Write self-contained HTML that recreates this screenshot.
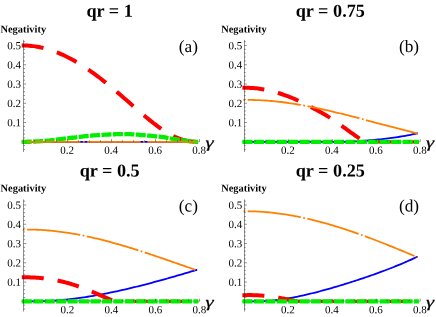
<!DOCTYPE html>
<html><head><meta charset="utf-8"><title>Negativity</title>
<style>html,body{margin:0;padding:0;background:#fff;overflow:hidden}svg{display:block;will-change:transform}text{text-rendering:geometricPrecision}</style></head><body>
<svg width="436" height="317" viewBox="0 0 436 317">
<rect width="436" height="317" fill="#fff"/>
<g id="panel-a">
<path d="M21.00,141.80H199.50" stroke="#444" stroke-width="0.45" fill="none"/>
<path d="M22.70,141.80L196.90,141.80" fill="none" stroke="#0000ff" stroke-width="1.8"/>
<path d="M21.70,45.48L23.50,45.48L25.44,45.51L27.38,45.59L29.32,45.72L31.27,45.90L33.21,46.12L35.15,46.38L37.09,46.70L39.03,47.06L40.97,47.46L42.92,47.90L44.86,48.39L46.80,48.92L48.74,49.50L50.68,50.11L52.62,50.77L54.57,51.47L56.51,52.21L58.45,52.98L60.39,53.80L62.33,54.66L64.27,55.55L66.21,56.48L68.16,57.45L70.10,58.45L72.04,59.49L73.98,60.57L75.92,61.68L77.86,62.83L79.81,64.01L81.75,65.22L83.69,66.47L85.63,67.74L87.57,69.05L89.51,70.40L91.46,71.77L93.40,73.17L95.34,74.60L97.28,76.05L99.22,77.53L101.16,79.03L103.10,80.56L105.05,82.10L106.99,83.67L108.93,85.25L110.87,86.85L112.81,88.47L114.75,90.10L116.70,91.74L118.64,93.39L120.58,95.06L122.52,96.73L124.46,98.41L126.40,100.10L128.34,101.79L130.29,103.49L132.23,105.19L134.17,106.89L136.11,108.59L138.05,110.28L139.99,111.96L141.94,113.63L143.88,115.28L145.82,116.92L147.76,118.53L149.70,120.12L151.64,121.67L153.59,123.20L155.53,124.68L157.47,126.13L159.41,127.53L161.35,128.88L163.29,130.19L165.23,131.44L167.18,132.63L169.12,133.76L171.06,134.83L173.00,135.83L174.94,136.75L176.88,137.61L178.83,138.39L180.77,139.09L182.71,139.72L184.65,140.26L186.59,140.72L188.53,141.09L190.48,141.38L192.42,141.58L194.36,141.68L196.30,141.69L198.10,141.69" fill="none" stroke="#ff0000" stroke-width="4.0" stroke-dasharray="22 14"/>
<path d="M21.70,141.80L23.50,141.80L25.44,141.79L27.38,141.77L29.32,141.74L31.27,141.69L33.21,141.62L35.15,141.52L37.09,141.42L39.03,141.31L40.97,141.18L42.92,141.03L44.86,140.87L46.80,140.70L48.74,140.52L50.68,140.32L52.62,140.09L54.57,139.85L56.51,139.60L58.45,139.35L60.39,139.11L62.33,138.88L64.27,138.65L66.21,138.42L68.16,138.20L70.10,137.97L72.04,137.75L73.98,137.53L75.92,137.30L77.86,137.08L79.81,136.86L81.75,136.64L83.69,136.43L85.63,136.23L87.57,136.03L89.51,135.83L91.46,135.64L93.40,135.46L95.34,135.30L97.28,135.16L99.22,135.02L101.16,134.89L103.10,134.78L105.05,134.67L106.99,134.58L108.93,134.48L110.87,134.39L112.81,134.30L114.75,134.24L116.70,134.20L118.64,134.20L120.58,134.20L122.52,134.20L124.46,134.20L126.40,134.20L128.34,134.20L130.29,134.22L132.23,134.29L134.17,134.42L136.11,134.56L138.05,134.72L139.99,134.88L141.94,135.02L143.88,135.18L145.82,135.35L147.76,135.53L149.70,135.72L151.64,135.90L153.59,136.09L155.53,136.27L157.47,136.47L159.41,136.67L161.35,136.89L163.29,137.14L165.23,137.44L167.18,137.78L169.12,138.14L171.06,138.51L173.00,138.85L174.94,139.17L176.88,139.49L178.83,139.80L180.77,140.09L182.71,140.38L184.65,140.64L186.59,140.90L188.53,141.14L190.48,141.35L192.42,141.52L194.36,141.68L196.30,141.80L198.10,141.80" fill="none" stroke="#00ee00" stroke-width="4.3" stroke-dasharray="10.09 1.35"/>
<path d="M22.70,141.80L196.90,141.80" fill="none" stroke="#ff8000" stroke-width="1.8" stroke-dasharray="1.8 2.5 53.4 2.5"/>
<path d="M23.50,39.91V152.01" stroke="#222" stroke-width="0.5" fill="none"/>
<g stroke="#333" stroke-width="0.55" fill="none">
<path d="M23.50,149.50h1.5M23.50,145.65h1.5M23.50,137.95h1.5M23.50,134.10h1.5M23.50,130.24h1.5M23.50,126.39h1.5M23.50,122.54h2.6M23.50,118.69h1.5M23.50,114.84h1.5M23.50,110.98h1.5M23.50,107.13h1.5M23.50,103.28h2.6M23.50,99.43h1.5M23.50,95.58h1.5M23.50,91.72h1.5M23.50,87.87h1.5M23.50,84.02h2.6M23.50,80.17h1.5M23.50,76.32h1.5M23.50,72.46h1.5M23.50,68.61h1.5M23.50,64.76h2.6M23.50,60.91h1.5M23.50,57.06h1.5M23.50,53.20h1.5M23.50,49.35h1.5M23.50,45.50h2.6M23.50,41.65h1.5M34.50,141.80v-1.5M45.50,141.80v-1.5M56.50,141.80v-1.5M67.50,141.80v-2.6M78.50,141.80v-1.5M89.50,141.80v-1.5M100.50,141.80v-1.5M111.50,141.80v-2.6M122.50,141.80v-1.5M133.50,141.80v-1.5M144.50,141.80v-1.5M155.50,141.80v-2.6M166.50,141.80v-1.5M177.50,141.80v-1.5M188.50,141.80v-1.5M199.50,141.80v-2.6"/>
</g>
<g font-family="'Liberation Serif', serif" font-size="11" fill="#000">
<text x="20.90" y="126.24" text-anchor="end" transform="rotate(0.04 20.90 126.24)">0.1</text>
<text x="20.90" y="106.98" text-anchor="end" transform="rotate(0.04 20.90 106.98)">0.2</text>
<text x="20.90" y="87.72" text-anchor="end" transform="rotate(0.04 20.90 87.72)">0.3</text>
<text x="20.90" y="68.46" text-anchor="end" transform="rotate(0.04 20.90 68.46)">0.4</text>
<text x="20.90" y="49.20" text-anchor="end" transform="rotate(0.04 20.90 49.20)">0.5</text>
<text x="67.20" y="153.70" text-anchor="middle" transform="rotate(0.04 67.20 153.70)">0.2</text>
<text x="111.20" y="153.70" text-anchor="middle" transform="rotate(0.04 111.20 153.70)">0.4</text>
<text x="155.20" y="153.70" text-anchor="middle" transform="rotate(0.04 155.20 153.70)">0.6</text>
<text x="199.20" y="153.70" text-anchor="middle" transform="rotate(0.04 199.20 153.70)">0.8</text>
</g>
<text x="0.50" y="32.60" transform="rotate(0.04 0.50 32.60)" font-family="'Liberation Serif', serif" font-weight="bold" font-size="10.4">Negativity</text>
<text transform="translate(205.40,147.40) rotate(0.03) scale(1.33,1)" font-family="'Liberation Serif', serif" font-style="italic" font-size="15.5" stroke="#000" stroke-width="0.22">γ</text>
<text x="109.60" y="16.80" transform="rotate(0.03 109.60 16.80)" text-anchor="middle" font-family="'Liberation Serif', serif" font-weight="bold" font-size="18.2">qr = 1</text>
<text x="188.30" y="52.10" transform="rotate(0.03 188.30 52.10)" text-anchor="middle" font-family="'Liberation Serif', serif" font-size="17.3">(a)</text>
</g>
<g id="panel-b">
<path d="M241.70,141.80H420.20" stroke="#444" stroke-width="0.45" fill="none"/>
<path d="M243.40,141.80L244.20,141.80L246.14,141.80L248.09,141.80L250.03,141.80L251.97,141.80L253.91,141.80L255.86,141.80L257.80,141.80L259.74,141.80L261.68,141.80L263.63,141.80L265.57,141.80L267.51,141.80L269.46,141.80L271.40,141.80L273.34,141.80L275.28,141.80L277.23,141.80L279.17,141.80L281.11,141.80L283.05,141.80L285.00,141.80L286.94,141.80L288.88,141.80L290.82,141.80L292.77,141.80L294.71,141.80L296.65,141.80L298.60,141.80L300.54,141.80L302.48,141.80L304.42,141.80L306.37,141.80L308.31,141.80L310.25,141.80L312.19,141.80L314.14,141.80L316.08,141.80L318.02,141.80L319.97,141.80L321.91,141.80L323.85,141.80L325.79,141.80L327.74,141.80L329.68,141.80L331.62,141.80L333.56,141.80L335.51,141.80L337.45,141.80L339.39,141.80L341.33,141.80L343.28,141.79L345.22,141.76L347.16,141.71L349.11,141.65L351.05,141.58L352.99,141.50L354.93,141.40L356.88,141.29L358.82,141.17L360.76,141.04L362.70,140.90L364.65,140.76L366.59,140.60L368.53,140.44L370.48,140.27L372.42,140.09L374.36,139.90L376.30,139.71L378.25,139.51L380.19,139.30L382.13,139.08L384.07,138.86L386.02,138.63L387.96,138.39L389.90,138.14L391.84,137.89L393.79,137.62L395.73,137.34L397.67,137.06L399.62,136.76L401.56,136.44L403.50,136.12L405.44,135.78L407.39,135.42L409.33,135.05L411.27,134.65L413.21,134.24L415.16,133.81L417.10,133.36L417.90,133.36" fill="none" stroke="#0000ff" stroke-width="1.8"/>
<path d="M242.40,87.80L244.20,87.80L245.72,87.78L247.24,87.79L248.76,87.82L250.28,87.88L251.80,87.97L253.32,88.07L254.84,88.21L256.36,88.36L257.88,88.54L259.40,88.74L260.92,88.96L262.44,89.21L263.96,89.47L265.48,89.76L267.00,90.07L268.52,90.40L270.04,90.75L271.56,91.12L273.08,91.51L274.61,91.92L276.13,92.35L277.65,92.80L279.17,93.26L280.69,93.75L282.21,94.25L283.73,94.77L285.25,95.30L286.77,95.86L288.29,96.43L289.81,97.03L291.33,97.64L292.85,98.27L294.37,98.92L295.89,99.59L297.41,100.27L298.93,100.98L300.45,101.70L301.97,102.44L303.49,103.19L305.01,103.96L306.53,104.73L308.05,105.51L309.57,106.30L311.09,107.09L312.61,107.88L314.13,108.68L315.65,109.49L317.17,110.30L318.69,111.13L320.21,111.97L321.73,112.82L323.25,113.69L324.77,114.57L326.29,115.48L327.81,116.41L329.33,117.36L330.85,118.34L332.37,119.33L333.89,120.35L335.42,121.39L336.94,122.44L338.46,123.51L339.98,124.59L341.50,125.67L343.02,126.76L344.54,127.86L346.06,128.96L347.58,130.06L349.10,131.16L350.62,132.26L352.14,133.35L353.66,134.44L355.18,135.52L356.70,136.59L358.22,137.65L359.74,138.70L361.26,139.74L362.78,140.76L364.30,141.77" fill="none" stroke="#ff0000" stroke-width="4.0" stroke-dasharray="22 14"/>
<path d="M364.30,141.80H418.90" fill="none" stroke="#ff0000" stroke-width="3.3" stroke-dasharray="22 14" stroke-dashoffset="27.78"/>
<path d="M242.40,141.80L418.90,141.80" fill="none" stroke="#00ee00" stroke-width="4.3" stroke-dasharray="10.09 1.35"/>
<path d="M243.40,99.96L244.20,99.96L246.14,99.93L248.09,99.92L250.03,99.93L251.97,99.95L253.91,99.99L255.86,100.04L257.80,100.11L259.74,100.19L261.68,100.29L263.63,100.40L265.57,100.52L267.51,100.66L269.46,100.82L271.40,100.98L273.34,101.16L275.28,101.35L277.23,101.56L279.17,101.77L281.11,102.00L283.05,102.24L285.00,102.50L286.94,102.76L288.88,103.03L290.82,103.32L292.77,103.61L294.71,103.92L296.65,104.24L298.60,104.56L300.54,104.90L302.48,105.24L304.42,105.60L306.37,105.96L308.31,106.33L310.25,106.71L312.19,107.10L314.14,107.50L316.08,107.90L318.02,108.31L319.97,108.73L321.91,109.16L323.85,109.59L325.79,110.03L327.74,110.47L329.68,110.92L331.62,111.38L333.56,111.84L335.51,112.31L337.45,112.78L339.39,113.25L341.33,113.73L343.28,114.22L345.22,114.71L347.16,115.20L349.11,115.69L351.05,116.19L352.99,116.70L354.93,117.20L356.88,117.71L358.82,118.22L360.76,118.73L362.70,119.24L364.65,119.76L366.59,120.27L368.53,120.79L370.48,121.31L372.42,121.82L374.36,122.34L376.30,122.86L378.25,123.38L380.19,123.89L382.13,124.41L384.07,124.93L386.02,125.44L387.96,125.95L389.90,126.46L391.84,126.97L393.79,127.48L395.73,127.99L397.67,128.49L399.62,128.99L401.56,129.48L403.50,129.97L405.44,130.46L407.39,130.95L409.33,131.43L411.27,131.90L413.21,132.37L415.16,132.84L417.10,133.30L417.90,133.30" fill="none" stroke="#ff8000" stroke-width="1.8" stroke-dasharray="1.8 2.5 53.4 2.5"/>
<path d="M244.50,39.91V152.01" stroke="#222" stroke-width="0.5" fill="none"/>
<g stroke="#333" stroke-width="0.55" fill="none">
<path d="M244.20,149.50h1.5M244.20,145.65h1.5M244.20,137.95h1.5M244.20,134.10h1.5M244.20,130.24h1.5M244.20,126.39h1.5M244.20,122.54h2.6M244.20,118.69h1.5M244.20,114.84h1.5M244.20,110.98h1.5M244.20,107.13h1.5M244.20,103.28h2.6M244.20,99.43h1.5M244.20,95.58h1.5M244.20,91.72h1.5M244.20,87.87h1.5M244.20,84.02h2.6M244.20,80.17h1.5M244.20,76.32h1.5M244.20,72.46h1.5M244.20,68.61h1.5M244.20,64.76h2.6M244.20,60.91h1.5M244.20,57.06h1.5M244.20,53.20h1.5M244.20,49.35h1.5M244.20,45.50h2.6M244.20,41.65h1.5M255.20,141.80v-1.5M266.20,141.80v-1.5M277.20,141.80v-1.5M288.20,141.80v-2.6M299.20,141.80v-1.5M310.20,141.80v-1.5M321.20,141.80v-1.5M332.20,141.80v-2.6M343.20,141.80v-1.5M354.20,141.80v-1.5M365.20,141.80v-1.5M376.20,141.80v-2.6M387.20,141.80v-1.5M398.20,141.80v-1.5M409.20,141.80v-1.5M420.20,141.80v-2.6"/>
</g>
<g font-family="'Liberation Serif', serif" font-size="11" fill="#000">
<text x="242.30" y="126.24" text-anchor="end" transform="rotate(0.04 242.30 126.24)">0.1</text>
<text x="242.30" y="106.98" text-anchor="end" transform="rotate(0.04 242.30 106.98)">0.2</text>
<text x="242.30" y="87.72" text-anchor="end" transform="rotate(0.04 242.30 87.72)">0.3</text>
<text x="242.30" y="68.46" text-anchor="end" transform="rotate(0.04 242.30 68.46)">0.4</text>
<text x="242.30" y="49.20" text-anchor="end" transform="rotate(0.04 242.30 49.20)">0.5</text>
<text x="287.90" y="153.70" text-anchor="middle" transform="rotate(0.04 287.90 153.70)">0.2</text>
<text x="331.90" y="153.70" text-anchor="middle" transform="rotate(0.04 331.90 153.70)">0.4</text>
<text x="375.90" y="153.70" text-anchor="middle" transform="rotate(0.04 375.90 153.70)">0.6</text>
<text x="419.90" y="153.70" text-anchor="middle" transform="rotate(0.04 419.90 153.70)">0.8</text>
</g>
<text x="221.20" y="32.60" transform="rotate(0.04 221.20 32.60)" font-family="'Liberation Serif', serif" font-weight="bold" font-size="10.4">Negativity</text>
<text transform="translate(426.10,147.40) rotate(0.03) scale(1.33,1)" font-family="'Liberation Serif', serif" font-style="italic" font-size="15.5" stroke="#000" stroke-width="0.22">γ</text>
<text x="330.30" y="16.80" transform="rotate(0.03 330.30 16.80)" text-anchor="middle" font-family="'Liberation Serif', serif" font-weight="bold" font-size="18.2">qr = 0.75</text>
<text x="409.00" y="52.10" transform="rotate(0.03 409.00 52.10)" text-anchor="middle" font-family="'Liberation Serif', serif" font-size="17.3">(b)</text>
</g>
<g id="panel-c">
<path d="M21.10,301.30H199.60" stroke="#444" stroke-width="0.45" fill="none"/>
<path d="M22.80,301.30L23.60,301.30L25.54,301.30L27.48,301.30L29.42,301.30L31.37,301.30L33.31,301.30L35.25,301.30L37.19,301.28L39.13,301.25L41.07,301.20L43.02,301.15L44.96,301.08L46.90,301.00L48.84,300.90L50.78,300.80L52.72,300.68L54.67,300.55L56.61,300.41L58.55,300.26L60.49,300.10L62.43,299.93L64.37,299.74L66.31,299.55L68.26,299.34L70.20,299.13L72.14,298.90L74.08,298.67L76.02,298.42L77.96,298.17L79.91,297.90L81.85,297.63L83.79,297.34L85.73,297.05L87.67,296.75L89.61,296.44L91.56,296.12L93.50,295.79L95.44,295.46L97.38,295.11L99.32,294.76L101.26,294.40L103.20,294.04L105.15,293.66L107.09,293.28L109.03,292.89L110.97,292.49L112.91,292.09L114.85,291.68L116.80,291.26L118.74,290.84L120.68,290.41L122.62,289.97L124.56,289.53L126.50,289.08L128.44,288.62L130.39,288.16L132.33,287.70L134.27,287.23L136.21,286.75L138.15,286.27L140.09,285.78L142.04,285.29L143.98,284.79L145.92,284.29L147.86,283.78L149.80,283.27L151.74,282.76L153.69,282.24L155.63,281.72L157.57,281.19L159.51,280.66L161.45,280.12L163.39,279.58L165.33,279.04L167.28,278.50L169.22,277.95L171.16,277.40L173.10,276.84L175.04,276.28L176.98,275.72L178.93,275.16L180.87,274.60L182.81,274.03L184.75,273.46L186.69,272.89L188.63,272.31L190.58,271.73L192.52,271.16L194.46,270.58L196.40,269.99L197.20,269.99" fill="none" stroke="#0000ff" stroke-width="1.8"/>
<path d="M21.80,277.32L23.60,277.32L24.76,277.31L25.91,277.31L27.07,277.32L28.23,277.34L29.38,277.36L30.54,277.39L31.70,277.43L32.86,277.48L34.01,277.54L35.17,277.60L36.33,277.67L37.48,277.76L38.64,277.85L39.80,277.95L40.95,278.05L42.11,278.17L43.27,278.29L44.43,278.43L45.58,278.57L46.74,278.72L47.90,278.88L49.05,279.05L50.21,279.23L51.37,279.41L52.52,279.61L53.68,279.81L54.84,280.03L55.99,280.25L57.15,280.48L58.31,280.72L59.47,280.97L60.62,281.23L61.78,281.50L62.94,281.78L64.09,282.06L65.25,282.36L66.41,282.66L67.56,282.98L68.72,283.30L69.88,283.64L71.04,283.98L72.19,284.33L73.35,284.69L74.51,285.07L75.66,285.45L76.82,285.84L77.98,286.24L79.13,286.65L80.29,287.07L81.45,287.50L82.61,287.93L83.76,288.38L84.92,288.83L86.08,289.29L87.23,289.75L88.39,290.22L89.55,290.70L90.70,291.18L91.86,291.66L93.02,292.15L94.17,292.64L95.33,293.13L96.49,293.63L97.65,294.13L98.80,294.62L99.96,295.12L101.12,295.62L102.27,296.12L103.43,296.62L104.59,297.11L105.74,297.61L106.90,298.10L108.06,298.58L109.22,299.07L110.37,299.55L111.53,300.02L112.69,300.49L113.84,300.96L115.00,301.30" fill="none" stroke="#ff0000" stroke-width="4.0" stroke-dasharray="22 14"/>
<path d="M115.00,301.30H198.20" fill="none" stroke="#ff0000" stroke-width="3.3" stroke-dasharray="22 14" stroke-dashoffset="25.17"/>
<path d="M21.80,301.30L198.20,301.30" fill="none" stroke="#00ee00" stroke-width="4.3" stroke-dasharray="10.09 1.35"/>
<path d="M22.80,229.64L23.60,229.64L25.54,229.61L27.48,229.60L29.42,229.60L31.37,229.62L33.31,229.65L35.25,229.71L37.19,229.77L39.13,229.86L41.07,229.96L43.02,230.07L44.96,230.20L46.90,230.35L48.84,230.51L50.78,230.68L52.72,230.87L54.67,231.08L56.61,231.30L58.55,231.53L60.49,231.77L62.43,232.03L64.37,232.30L66.31,232.59L68.26,232.88L70.20,233.19L72.14,233.52L74.08,233.85L76.02,234.20L77.96,234.55L79.91,234.92L81.85,235.31L83.79,235.70L85.73,236.10L87.67,236.51L89.61,236.94L91.56,237.37L93.50,237.81L95.44,238.27L97.38,238.73L99.32,239.21L101.26,239.69L103.20,240.18L105.15,240.68L107.09,241.19L109.03,241.70L110.97,242.23L112.91,242.76L114.85,243.30L116.80,243.85L118.74,244.41L120.68,244.97L122.62,245.54L124.56,246.11L126.50,246.70L128.44,247.29L130.39,247.88L132.33,248.48L134.27,249.09L136.21,249.70L138.15,250.32L140.09,250.94L142.04,251.56L143.98,252.20L145.92,252.83L147.86,253.47L149.80,254.12L151.74,254.76L153.69,255.41L155.63,256.07L157.57,256.73L159.51,257.39L161.45,258.05L163.39,258.71L165.33,259.38L167.28,260.05L169.22,260.72L171.16,261.40L173.10,262.07L175.04,262.75L176.98,263.43L178.93,264.10L180.87,264.78L182.81,265.46L184.75,266.14L186.69,266.82L188.63,267.50L190.58,268.18L192.52,268.86L194.46,269.53L196.40,270.21L197.20,270.21" fill="none" stroke="#ff8000" stroke-width="1.8" stroke-dasharray="1.8 2.5 53.4 2.5"/>
<path d="M23.50,199.41V311.51" stroke="#222" stroke-width="0.5" fill="none"/>
<g stroke="#333" stroke-width="0.55" fill="none">
<path d="M23.60,309.00h1.5M23.60,305.15h1.5M23.60,297.45h1.5M23.60,293.60h1.5M23.60,289.74h1.5M23.60,285.89h1.5M23.60,282.04h2.6M23.60,278.19h1.5M23.60,274.34h1.5M23.60,270.48h1.5M23.60,266.63h1.5M23.60,262.78h2.6M23.60,258.93h1.5M23.60,255.08h1.5M23.60,251.22h1.5M23.60,247.37h1.5M23.60,243.52h2.6M23.60,239.67h1.5M23.60,235.82h1.5M23.60,231.96h1.5M23.60,228.11h1.5M23.60,224.26h2.6M23.60,220.41h1.5M23.60,216.56h1.5M23.60,212.70h1.5M23.60,208.85h1.5M23.60,205.00h2.6M23.60,201.15h1.5M34.60,301.30v-1.5M45.60,301.30v-1.5M56.60,301.30v-1.5M67.60,301.30v-2.6M78.60,301.30v-1.5M89.60,301.30v-1.5M100.60,301.30v-1.5M111.60,301.30v-2.6M122.60,301.30v-1.5M133.60,301.30v-1.5M144.60,301.30v-1.5M155.60,301.30v-2.6M166.60,301.30v-1.5M177.60,301.30v-1.5M188.60,301.30v-1.5M199.60,301.30v-2.6"/>
</g>
<g font-family="'Liberation Serif', serif" font-size="11" fill="#000">
<text x="21.00" y="285.74" text-anchor="end" transform="rotate(0.04 21.00 285.74)">0.1</text>
<text x="21.00" y="266.48" text-anchor="end" transform="rotate(0.04 21.00 266.48)">0.2</text>
<text x="21.00" y="247.22" text-anchor="end" transform="rotate(0.04 21.00 247.22)">0.3</text>
<text x="21.00" y="227.96" text-anchor="end" transform="rotate(0.04 21.00 227.96)">0.4</text>
<text x="21.00" y="208.70" text-anchor="end" transform="rotate(0.04 21.00 208.70)">0.5</text>
<text x="67.30" y="313.20" text-anchor="middle" transform="rotate(0.04 67.30 313.20)">0.2</text>
<text x="111.30" y="313.20" text-anchor="middle" transform="rotate(0.04 111.30 313.20)">0.4</text>
<text x="155.30" y="313.20" text-anchor="middle" transform="rotate(0.04 155.30 313.20)">0.6</text>
<text x="199.30" y="313.20" text-anchor="middle" transform="rotate(0.04 199.30 313.20)">0.8</text>
</g>
<text x="0.60" y="191.50" transform="rotate(0.04 0.60 191.50)" font-family="'Liberation Serif', serif" font-weight="bold" font-size="10.4">Negativity</text>
<text transform="translate(205.50,306.90) rotate(0.03) scale(1.33,1)" font-family="'Liberation Serif', serif" font-style="italic" font-size="15.5" stroke="#000" stroke-width="0.22">γ</text>
<text x="109.70" y="176.60" transform="rotate(0.03 109.70 176.60)" text-anchor="middle" font-family="'Liberation Serif', serif" font-weight="bold" font-size="18.2">qr = 0.5</text>
<text x="188.40" y="211.60" transform="rotate(0.03 188.40 211.60)" text-anchor="middle" font-family="'Liberation Serif', serif" font-size="17.3">(c)</text>
</g>
<g id="panel-d">
<path d="M241.70,301.30H420.20" stroke="#444" stroke-width="0.45" fill="none"/>
<path d="M243.50,301.30L244.30,301.30L246.24,301.30L248.18,301.30L250.12,301.30L252.07,301.30L254.01,301.30L255.95,301.30L257.89,301.30L259.83,301.27L261.77,301.22L263.72,301.14L265.66,301.04L267.60,300.92L269.54,300.77L271.48,300.60L273.42,300.41L275.37,300.20L277.31,299.97L279.25,299.73L281.19,299.46L283.13,299.18L285.07,298.88L287.01,298.57L288.96,298.23L290.90,297.89L292.84,297.53L294.78,297.15L296.72,296.77L298.66,296.37L300.61,295.95L302.55,295.53L304.49,295.10L306.43,294.65L308.37,294.19L310.31,293.73L312.26,293.25L314.20,292.76L316.14,292.27L318.08,291.77L320.02,291.25L321.96,290.73L323.90,290.21L325.85,289.67L327.79,289.13L329.73,288.58L331.67,288.03L333.61,287.46L335.55,286.90L337.50,286.32L339.44,285.74L341.38,285.15L343.32,284.56L345.26,283.96L347.20,283.36L349.14,282.75L351.09,282.13L353.03,281.51L354.97,280.88L356.91,280.25L358.85,279.61L360.79,278.97L362.74,278.32L364.68,277.66L366.62,277.00L368.56,276.33L370.50,275.66L372.44,274.98L374.39,274.29L376.33,273.59L378.27,272.89L380.21,272.18L382.15,271.47L384.09,270.74L386.03,270.01L387.98,269.27L389.92,268.52L391.86,267.76L393.80,266.99L395.74,266.21L397.68,265.42L399.63,264.62L401.57,263.81L403.51,262.98L405.45,262.15L407.39,261.30L409.33,260.44L411.28,259.57L413.22,258.68L415.16,257.77L417.10,256.86L417.90,256.86" fill="none" stroke="#0000ff" stroke-width="1.8"/>
<path d="M242.40,295.21L244.20,295.21L244.87,295.18L245.54,295.16L246.21,295.14L246.87,295.13L247.54,295.11L248.21,295.10L248.88,295.10L249.55,295.10L250.22,295.10L250.88,295.10L251.55,295.11L252.22,295.12L252.89,295.13L253.56,295.15L254.23,295.17L254.89,295.19L255.56,295.22L256.23,295.25L256.90,295.28L257.57,295.31L258.24,295.35L258.90,295.39L259.57,295.43L260.24,295.48L260.91,295.53L261.58,295.58L262.25,295.63L262.91,295.69L263.58,295.75L264.25,295.81L264.92,295.88L265.59,295.94L266.26,296.01L266.92,296.09L267.59,296.16L268.26,296.24L268.93,296.32L269.60,296.40L270.27,296.48L270.93,296.57L271.60,296.66L272.27,296.75L272.94,296.84L273.61,296.93L274.28,297.03L274.94,297.13L275.61,297.23L276.28,297.33L276.95,297.44L277.62,297.55L278.29,297.66L278.95,297.77L279.62,297.88L280.29,297.99L280.96,298.11L281.63,298.23L282.30,298.35L282.96,298.47L283.63,298.59L284.30,298.72L284.97,298.85L285.64,298.97L286.31,299.10L286.97,299.24L287.64,299.37L288.31,299.50L288.98,299.64L289.65,299.78L290.32,299.91L290.98,300.05L291.65,300.19L292.32,300.34L292.99,300.48L293.66,300.62L294.33,300.77L294.99,300.92L295.66,301.07L296.33,301.21L297.00,301.30" fill="none" stroke="#ff0000" stroke-width="4.0" stroke-dasharray="22 14"/>
<path d="M297.00,301.30H418.90" fill="none" stroke="#ff0000" stroke-width="3.3" stroke-dasharray="22 14" stroke-dashoffset="19.10"/>
<path d="M242.40,301.30L418.90,301.30" fill="none" stroke="#00ee00" stroke-width="4.3" stroke-dasharray="10.09 1.35"/>
<path d="M243.50,211.24L244.30,211.24L246.24,211.24L248.18,211.25L250.12,211.28L252.07,211.32L254.01,211.38L255.95,211.46L257.89,211.55L259.83,211.66L261.77,211.78L263.72,211.92L265.66,212.07L267.60,212.24L269.54,212.42L271.48,212.62L273.42,212.83L275.37,213.06L277.31,213.30L279.25,213.56L281.19,213.83L283.13,214.11L285.07,214.40L287.01,214.71L288.96,215.03L290.90,215.37L292.84,215.72L294.78,216.08L296.72,216.45L298.66,216.84L300.61,217.23L302.55,217.64L304.49,218.06L306.43,218.50L308.37,218.94L310.31,219.40L312.26,219.86L314.20,220.34L316.14,220.83L318.08,221.33L320.02,221.84L321.96,222.36L323.90,222.89L325.85,223.43L327.79,223.98L329.73,224.55L331.67,225.12L333.61,225.69L335.55,226.28L337.50,226.88L339.44,227.49L341.38,228.10L343.32,228.73L345.26,229.36L347.20,230.00L349.14,230.65L351.09,231.30L353.03,231.97L354.97,232.64L356.91,233.32L358.85,234.00L360.79,234.70L362.74,235.40L364.68,236.11L366.62,236.82L368.56,237.54L370.50,238.27L372.44,239.00L374.39,239.74L376.33,240.48L378.27,241.23L380.21,241.99L382.15,242.75L384.09,243.51L386.03,244.28L387.98,245.06L389.92,245.84L391.86,246.63L393.80,247.41L395.74,248.21L397.68,249.00L399.63,249.81L401.57,250.61L403.51,251.42L405.45,252.23L407.39,253.04L409.33,253.86L411.28,254.68L413.22,255.51L415.16,256.33L417.10,257.16L417.90,257.16" fill="none" stroke="#ff8000" stroke-width="1.8" stroke-dasharray="1.8 2.5 53.4 2.5"/>
<path d="M244.50,199.41V311.51" stroke="#222" stroke-width="0.5" fill="none"/>
<g stroke="#333" stroke-width="0.55" fill="none">
<path d="M244.20,309.00h1.5M244.20,305.15h1.5M244.20,297.45h1.5M244.20,293.60h1.5M244.20,289.74h1.5M244.20,285.89h1.5M244.20,282.04h2.6M244.20,278.19h1.5M244.20,274.34h1.5M244.20,270.48h1.5M244.20,266.63h1.5M244.20,262.78h2.6M244.20,258.93h1.5M244.20,255.08h1.5M244.20,251.22h1.5M244.20,247.37h1.5M244.20,243.52h2.6M244.20,239.67h1.5M244.20,235.82h1.5M244.20,231.96h1.5M244.20,228.11h1.5M244.20,224.26h2.6M244.20,220.41h1.5M244.20,216.56h1.5M244.20,212.70h1.5M244.20,208.85h1.5M244.20,205.00h2.6M244.20,201.15h1.5M255.20,301.30v-1.5M266.20,301.30v-1.5M277.20,301.30v-1.5M288.20,301.30v-2.6M299.20,301.30v-1.5M310.20,301.30v-1.5M321.20,301.30v-1.5M332.20,301.30v-2.6M343.20,301.30v-1.5M354.20,301.30v-1.5M365.20,301.30v-1.5M376.20,301.30v-2.6M387.20,301.30v-1.5M398.20,301.30v-1.5M409.20,301.30v-1.5M420.20,301.30v-2.6"/>
</g>
<g font-family="'Liberation Serif', serif" font-size="11" fill="#000">
<text x="242.30" y="285.74" text-anchor="end" transform="rotate(0.04 242.30 285.74)">0.1</text>
<text x="242.30" y="266.48" text-anchor="end" transform="rotate(0.04 242.30 266.48)">0.2</text>
<text x="242.30" y="247.22" text-anchor="end" transform="rotate(0.04 242.30 247.22)">0.3</text>
<text x="242.30" y="227.96" text-anchor="end" transform="rotate(0.04 242.30 227.96)">0.4</text>
<text x="242.30" y="208.70" text-anchor="end" transform="rotate(0.04 242.30 208.70)">0.5</text>
<text x="287.90" y="313.20" text-anchor="middle" transform="rotate(0.04 287.90 313.20)">0.2</text>
<text x="331.90" y="313.20" text-anchor="middle" transform="rotate(0.04 331.90 313.20)">0.4</text>
<text x="375.90" y="313.20" text-anchor="middle" transform="rotate(0.04 375.90 313.20)">0.6</text>
<text x="419.90" y="313.20" text-anchor="middle" transform="rotate(0.04 419.90 313.20)">0.8</text>
</g>
<text x="221.20" y="191.50" transform="rotate(0.04 221.20 191.50)" font-family="'Liberation Serif', serif" font-weight="bold" font-size="10.4">Negativity</text>
<text transform="translate(426.10,306.90) rotate(0.03) scale(1.33,1)" font-family="'Liberation Serif', serif" font-style="italic" font-size="15.5" stroke="#000" stroke-width="0.22">γ</text>
<text x="330.30" y="176.60" transform="rotate(0.03 330.30 176.60)" text-anchor="middle" font-family="'Liberation Serif', serif" font-weight="bold" font-size="18.2">qr = 0.25</text>
<text x="409.00" y="211.60" transform="rotate(0.03 409.00 211.60)" text-anchor="middle" font-family="'Liberation Serif', serif" font-size="17.3">(d)</text>
</g>
</svg></body></html>
